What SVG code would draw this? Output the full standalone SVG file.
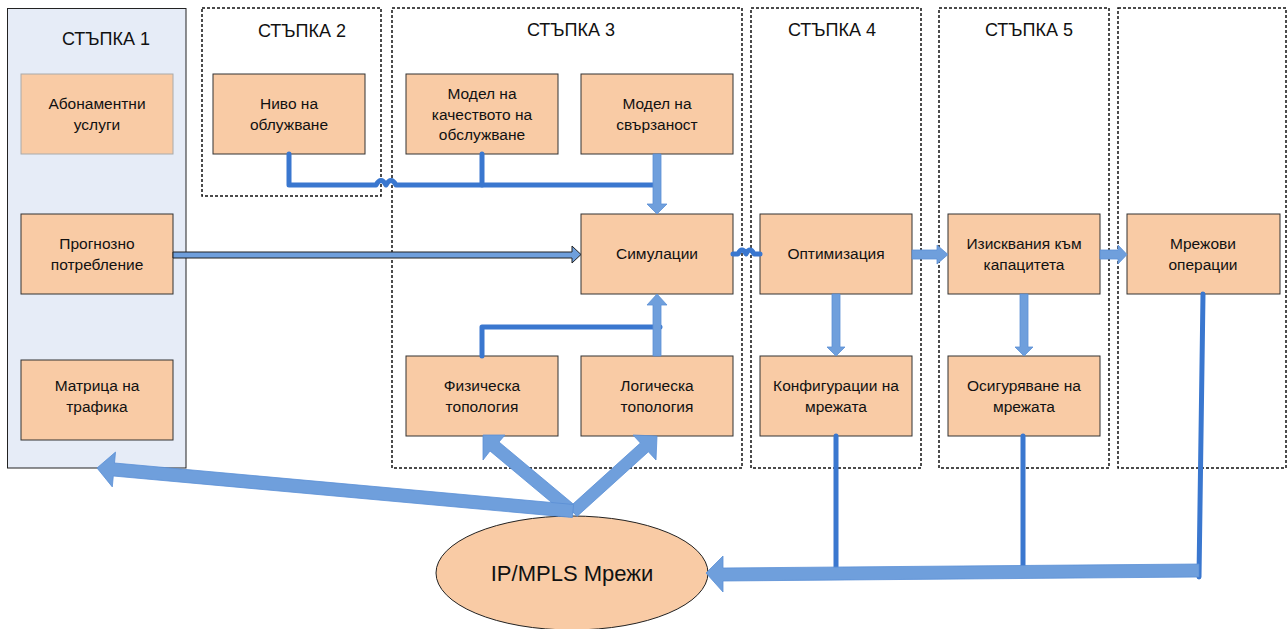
<svg xmlns="http://www.w3.org/2000/svg" width="1288" height="629" viewBox="0 0 1288 629">
  <style>
    .stage { fill: none; stroke: #111; stroke-width: 1.5; stroke-dasharray: 3 2; }
    .title { font-family: "Liberation Sans", Arial, sans-serif; font-size: 18px; fill: #111; text-anchor: middle; }
    .box { fill: #f9cba5; stroke: #333; stroke-width: 1; }
    .lbl { font-family: "Liberation Sans", Arial, sans-serif; font-size: 15.5px; fill: #111; text-anchor: middle; }
    .wire { fill: none; stroke: #3a77cf; stroke-width: 5; stroke-linecap: round; stroke-linejoin: round; }
    .block { fill: #6f9fdc; stroke: #5a8fd6; stroke-width: 0.8; stroke-linejoin: miter; }
  </style>

  <rect width="1288" height="629" fill="#ffffff"/>

  <!-- stage containers -->
  <g id="stage1">
    <rect x="7.5" y="8.5" width="178.5" height="459.5" fill="#e6ecf7" stroke="#222" stroke-width="1"/>
    <text class="title" x="106" y="45">СТЪПКА 1</text>
  </g>
  <g id="stage2">
    <rect class="stage" x="202" y="8" width="179" height="188"/>
    <text class="title" x="302" y="37">СТЪПКА 2</text>
  </g>
  <g id="stage3">
    <rect class="stage" x="392" y="8" width="350" height="460"/>
    <text class="title" x="571" y="36">СТЪПКА 3</text>
  </g>
  <g id="stage4">
    <rect class="stage" x="751" y="8" width="170" height="460"/>
    <text class="title" x="832" y="36">СТЪПКА 4</text>
  </g>
  <g id="stage5">
    <rect class="stage" x="939" y="8" width="170" height="460"/>
    <text class="title" x="1029" y="36">СТЪПКА 5</text>
  </g>
  <g id="stage6">
    <rect class="stage" x="1118" y="8" width="168" height="460"/>
  </g>

  <!-- process nodes -->
  <g id="subscriptions">
    <rect x="21" y="74" width="152" height="80" fill="#f9cba5" stroke="#aaaaaa" stroke-width="1"/>
    <text class="lbl" x="97" y="109">Абонаментни</text>
    <text class="lbl" x="97" y="130">услуги</text>
  </g>
  <g id="forecast">
    <rect class="box" x="21" y="214" width="152" height="80"/>
    <text class="lbl" x="97" y="249">Прогнозно</text>
    <text class="lbl" x="97" y="270">потребление</text>
  </g>
  <g id="traffic-matrix">
    <rect class="box" x="21" y="360" width="152" height="80"/>
    <text class="lbl" x="97" y="391">Матрица на</text>
    <text class="lbl" x="97" y="412">трафика</text>
  </g>
  <g id="service-level">
    <rect class="box" x="213" y="74" width="152" height="80"/>
    <text class="lbl" x="289" y="109">Ниво на</text>
    <text class="lbl" x="289" y="130">облужване</text>
  </g>
  <g id="qos-model">
    <rect class="box" x="406" y="74" width="152" height="80"/>
    <text class="lbl" x="482" y="99">Модел на</text>
    <text class="lbl" x="482" y="120">качеството на</text>
    <text class="lbl" x="482" y="140">обслужване</text>
  </g>
  <g id="connectivity-model">
    <rect class="box" x="581" y="74" width="152" height="80"/>
    <text class="lbl" x="657" y="109">Модел на</text>
    <text class="lbl" x="657" y="130">свързаност</text>
  </g>
  <g id="simulations">
    <rect class="box" x="581" y="214" width="152" height="80"/>
    <text class="lbl" x="657" y="259">Симулации</text>
  </g>
  <g id="physical-topology">
    <rect class="box" x="406" y="356" width="152" height="80"/>
    <text class="lbl" x="482" y="391">Физическа</text>
    <text class="lbl" x="482" y="412">топология</text>
  </g>
  <g id="logical-topology">
    <rect class="box" x="581" y="356" width="152" height="80"/>
    <text class="lbl" x="657" y="391">Логическа</text>
    <text class="lbl" x="657" y="412">топология</text>
  </g>
  <g id="optimization">
    <rect class="box" x="760" y="214" width="152" height="80"/>
    <text class="lbl" x="836" y="259">Оптимизация</text>
  </g>
  <g id="network-config">
    <rect class="box" x="760" y="356" width="152" height="80"/>
    <text class="lbl" x="836" y="391">Конфигурации на</text>
    <text class="lbl" x="836" y="412">мрежата</text>
  </g>
  <g id="capacity">
    <rect class="box" x="948" y="214" width="152" height="80"/>
    <text class="lbl" x="1024" y="249">Изисквания към</text>
    <text class="lbl" x="1024" y="270">капацитета</text>
  </g>
  <g id="provisioning">
    <rect class="box" x="948" y="356" width="152" height="80"/>
    <text class="lbl" x="1024" y="391">Осигуряване на</text>
    <text class="lbl" x="1024" y="412">мрежата</text>
  </g>
  <g id="operations">
    <rect class="box" x="1127" y="214" width="153" height="80"/>
    <text class="lbl" x="1203" y="249">Мрежови</text>
    <text class="lbl" x="1203" y="270">операции</text>
  </g>
  <g id="ip-mpls">
    <ellipse cx="572" cy="573" rx="136" ry="57" fill="#f9cba5" stroke="#222" stroke-width="1"/>
    <text x="572" y="581" font-family="'Liberation Sans', Arial, sans-serif" font-size="22" fill="#111" text-anchor="middle">IP/MPLS Мрежи</text>
  </g>

  <!-- connectors -->
  <g id="connectors">
    <!-- inputs gathered into the simulation -->
    <path class="wire" d="M289,154 V185 H376 q5,-9 10,0 q5,-9 10,0 H655"/>
    <path class="wire" d="M482,154 V185"/>
    <polygon class="block" points="653,154 661,154 661,204 667,204 657,214 647,204 653,204"/>
    <polygon fill="#6f9fdc" stroke="#222" stroke-width="1" points="173,252 572,252 572,246 581,254.5 572,263 572,258 173,258"/>
    <path class="wire" d="M482,356 V327 H660"/>
    <polygon class="block" points="653,356 661,356 661,305 667,305 657,294 647,305 653,305"/>

    <!-- simulation to optimisation (jumper over the stage borders) -->
    <path class="wire" d="M733,254 H738 q4,-8 8,0 q4,-8 8,0 H760"/>

    <!-- horizontal flow between stages -->
    <polygon class="block" points="912,250 937,250 937,245 948,254.5 937,264 937,259 912,259"/>
    <polygon class="block" points="1100,250 1118,250 1118,245 1127,254.5 1118,264 1118,259 1100,259"/>

    <!-- vertical flow inside stages -->
    <polygon class="block" points="832,294 840,294 840,347 845,347 836,356 827,347 832,347"/>
    <polygon class="block" points="1020,294 1028,294 1028,347 1033,347 1024,356 1015,347 1020,347"/>

    <!-- network feeding the topologies and the first stage -->
    <polygon class="block" points="483,435 505,435 499,442 578,508 569,517 490,451 483,460"/>
    <polygon class="block" points="657,436 656,460 648.4,451.8 577,516.4 569,507.6 640.4,443 633,435"/>
    <polygon class="block" points="97,468 115.5,452.1 114.5,463 573.6,504.5 572.4,517.5 113.3,476 112.3,486.9"/>

    <!-- results returned to the network -->
    <path class="wire" d="M836,436 V568"/>
    <path class="wire" d="M1023,436 V567"/>
    <path class="wire" d="M1203,294 L1199,577"/>
    <polygon class="block" points="1199,564 723,568 723,556 706,573 723,592 723,581 1199,577"/>
  </g>
</svg>
